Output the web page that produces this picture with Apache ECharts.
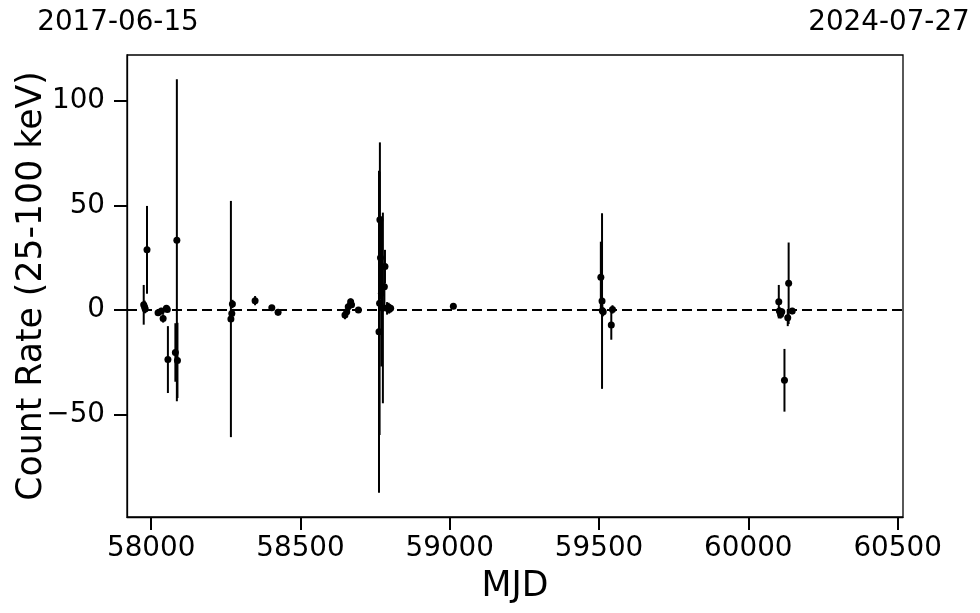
<!DOCTYPE html>
<html>
<head>
<meta charset="utf-8">
<script src="https://cdn.jsdelivr.net/npm/echarts@6/dist/echarts.min.js"></script>
<style>
html,body{margin:0;padding:0;background:#fff;}
#chart{width:980px;height:613px;}
</style>
</head>
<body>
<div id="chart"></div>
<script>
// ---- data ----
const mjd = [57975, 57978, 57980, 57986, 58023, 58034, 58040, 58051, 58054, 58056, 58081, 58086, 58088,
  58267, 58270, 58272, 58348, 58404, 58425,
  58649, 58655, 58660, 58668, 58671, 58694,
  58763, 58765, 58766, 58768, 58771, 58776, 58781, 58783, 58790, 58795, 58797, 58802,
  59012,
  59506, 59510, 59511, 59514, 59541, 59545,
  60102, 60104, 60108, 60112, 60121, 60132, 60135, 60147];
const rate = [2.5, 1.5, 0.5, 28.8, -1.3, -0.5, -4, 0.8, 0.3, -23.7, -20.3, 33.4, -24.1,
  -4.3, -1.6, 2.9, 4.5, 1.1, -1.1,
  -2.4, -0.8, 1.6, 4, 2.5, 0,
  -10.4, 3.2, 43.2, 25, 8, 1, 11.2, 20.8, 0.8, 1.5, 0.3, 0.8,
  1.8,
  15.7, 4.3, -0.3, -0.8, -7.2, 0.3,
  4, -0.5, -2.1, -0.8, -33.6, -3.7, 12.8, -0.5];
const rateErr = [9.5, 3, 2, 21, 1.5, 1.5, 2, 1.5, 1, 16, 14, 77, 18,
  56.5, 2, 2, 2.2, 1, 1.5,
  2, 1.5, 2, 1.5, 1.5, 1,
  77, 63, 37, 20, 35, 45.6, 10, 8, 3, 2, 2, 1.5,
  1,
  17, 42, 3, 2, 7, 2,
  8, 2, 2, 1.5, 15, 4, 19.5, 1.5];
const xTicks = [58000, 58500, 59000, 59500, 60000, 60500];
const yTicks = [-50, 0, 50, 100];
const dateStart = 57919, dateEnd = 60518;
const dateLabels = {57919: '2017-06-15', 60518: '2024-07-27'};

const points = mjd.map((m, i) => [m, rate[i]]);
const bars = mjd.map((m, i) => [m, rate[i] - rateErr[i], rate[i] + rateErr[i]]);

const FONT = 'DejaVu Sans';
const chart = echarts.init(document.getElementById('chart'), null, {renderer: 'canvas'});
chart.setOption({
  animation: false,
  backgroundColor: '#fff',
  grid: {left: 127, right: 77, top: 55, bottom: 96, containLabel: false, outerBoundsMode: 'none',
    show: true, borderColor: '#000', borderWidth: 1.3, backgroundColor: 'transparent'},
  xAxis: [{
    type: 'value', min: dateStart, max: dateEnd, position: 'bottom',
    name: 'MJD', nameLocation: 'middle', nameGap: 52, nameMoveOverlap: false,
    nameTextStyle: {fontFamily: FONT, fontSize: 34.7, color: '#000'},
    axisLine: {show: true, onZero: false, lineStyle: {color: '#000', width: 1.3}},
    axisTick: {show: true, length: 13, lineStyle: {color: '#000', width: 2}, customValues: xTicks},
    axisLabel: {fontFamily: FONT, fontSize: 27.8, color: '#000', margin: 18, customValues: xTicks,
      formatter: v => String(v)},
    splitLine: {show: false}
  }, {
    type: 'value', min: dateStart, max: dateEnd, position: 'top',
    axisLine: {show: false}, axisTick: {show: false}, splitLine: {show: false},
    axisLabel: {
      fontFamily: FONT, fontSize: 27.8, color: '#000', margin: 18,
      customValues: [dateStart, dateEnd],
      formatter: v => (v === dateStart ? '{a|' : '{b|') + (dateLabels[v] || '') + '}',
      rich: {
        a: {fontFamily: FONT, fontSize: 27.8, color: '#000', padding: [0, 18, 0, 0]},
        b: {fontFamily: FONT, fontSize: 27.8, color: '#000', padding: [0, 28, 0, 0]}
      }
    }
  }],
  yAxis: {
    type: 'value', min: -99, max: 122,
    name: 'Count Rate (25-100 keV)', nameLocation: 'middle', nameGap: 78, nameMoveOverlap: false,
    nameTextStyle: {fontFamily: FONT, fontSize: 34.7, color: '#000'},
    axisLine: {show: true, onZero: false, lineStyle: {color: '#000', width: 1.3}},
    axisTick: {show: true, length: 13, lineStyle: {color: '#000', width: 2}, customValues: yTicks},
    axisLabel: {fontFamily: FONT, fontSize: 27.8, color: '#000', margin: 22, customValues: yTicks,
      formatter: v => v < 0 ? '\u2212' + Math.abs(v) : String(v)},
    splitLine: {show: false}
  },
  series: [{
    type: 'custom',
    data: bars,
    encode: {x: 0, y: [1, 2]},
    renderItem: (params, api) => {
      const x = api.value(0);
      const p1 = api.coord([x, api.value(1)]);
      const p2 = api.coord([x, api.value(2)]);
      return {type: 'line', shape: {x1: p1[0], y1: p1[1], x2: p2[0], y2: p2[1]},
        style: {stroke: '#000', lineWidth: 2}};
    },
    z: 2
  }, {
    type: 'scatter',
    data: points,
    symbol: 'circle', symbolSize: 7,
    itemStyle: {color: '#000', opacity: 1},
    z: 3,
    markLine: {
      silent: true, symbol: 'none', label: {show: false},
      lineStyle: {color: '#000', width: 2, type: [10, 5], opacity: 1},
      data: [{yAxis: 0}]
    }
  }]
});
</script>
</body>
</html>
